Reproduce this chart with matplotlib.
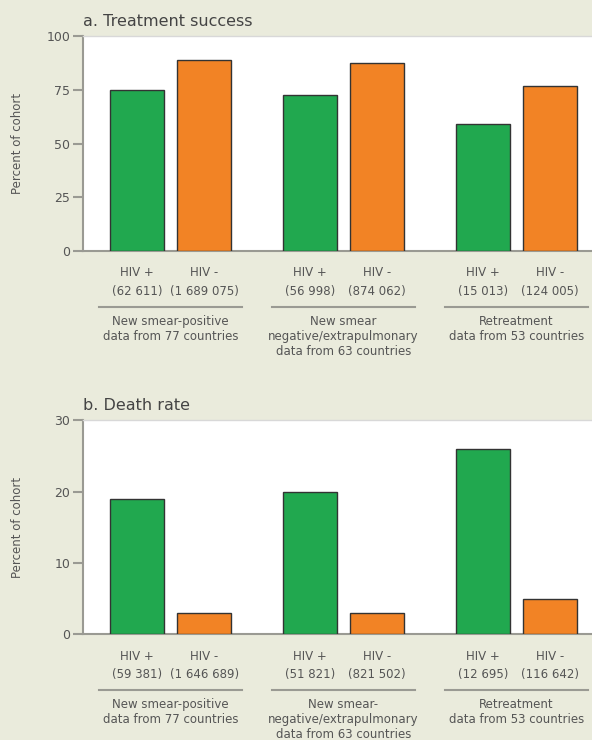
import matplotlib.pyplot as plt
from matplotlib.lines import Line2D

# data
groups = ["New smear-positive\ndata from 77 countries",
          "New smear\nnegative/extrapulmonary\ndata from 63 countries",
          "Retreatment\ndata from 53 countries"]
groups_b = ["New smear-positive\ndata from 77 countries",
            "New smear-\nnegative/extrapulmonary\ndata from 63 countries",
            "Retreatment\ndata from 53 countries"]
success_pos = [75, 72.5, 59]
success_neg = [89, 87.5, 77]
n_success_pos = ["(62 611)", "(56 998)", "(15 013)"]
n_success_neg = ["(1 689 075)", "(874 062)", "(124 005)"]
death_pos = [19, 20, 26]
death_neg = [3, 3, 5]
n_death_pos = ["(59 381)", "(51 821)", "(12 695)"]
n_death_neg = ["(1 646 689)", "(821 502)", "(116 642)"]

BG = "#EAEBDC"
GREEN = "#21A84F"
ORANGE = "#F28325"
TXT = "#555555"
GRAY = "#9A9A93"

plt.rcParams["font.family"] = ["DejaVu Sans"]

fig = plt.figure(figsize=(5.92, 7.4), dpi=100)
fig.patch.set_facecolor(BG)

step = 2.58
xs = [i * step for i in range(3)]


def panel(ax, title, pos, neg, npos, nneg, names, ymax, ticks):
    ax.set_facecolor("white")
    w = 0.8
    ax.bar([x for x in xs], pos, width=w, color=GREEN, edgecolor="#333333", linewidth=1, zorder=3)
    ax.bar([x + 1 for x in xs], neg, width=w, color=ORANGE, edgecolor="#333333", linewidth=1, zorder=3)
    ax.set_xlim(-0.81, 2 * step + 1 + 0.63)
    ax.set_ylim(0, ymax)
    ax.set_yticks(ticks)
    ax.set_xticks([])
    ax.tick_params(axis="y", length=7, width=1.5, color=GRAY, labelcolor=TXT, labelsize=9, pad=2)
    ax.spines["right"].set_visible(False)
    ax.spines["top"].set_color("#D8D8D8")
    ax.spines["top"].set_linewidth(1)
    ax.spines["left"].set_color(GRAY)
    ax.spines["left"].set_linewidth(1.5)
    ax.spines["bottom"].set_color(GRAY)
    ax.spines["bottom"].set_linewidth(1.5)
    ax.set_ylabel("Percent of cohort", color=TXT, fontsize=8.5)
    ax.yaxis.set_label_coords(-0.115, 0.5)
    ax.text(0.0, 1.035, title, transform=ax.transAxes, fontsize=11.5, color="#444444",
            ha="left", va="bottom")
    tr = ax.get_xaxis_transform()
    h = 215.0
    for i, x in enumerate(xs):
        ax.text(x, -22 / h, "HIV +", transform=tr, ha="center", va="center", fontsize=8.5, color=TXT)
        ax.text(x + 1, -22 / h, "HIV -", transform=tr, ha="center", va="center", fontsize=8.5, color=TXT)
        ax.text(x, -41 / h, npos[i], transform=tr, ha="center", va="center", fontsize=8.5, color=TXT)
        ax.text(x + 1, -41 / h, nneg[i], transform=tr, ha="center", va="center", fontsize=8.5, color=TXT)
        ax.add_line(Line2D([x + 0.5 - 1.07, x + 0.5 + 1.07], [-56 / h, -56 / h], transform=tr,
                           color=GRAY, linewidth=1.5, clip_on=False))
        ax.text(x + 0.5, -64 / h, names[i], transform=tr, ha="center", va="top", fontsize=8.5,
                color=TXT, linespacing=1.22)


ax1 = fig.add_axes([0.140, 0.661, 0.86, 0.290])
panel(ax1, "a. Treatment success", success_pos, success_neg, n_success_pos, n_success_neg,
      groups, 100, [0, 25, 50, 75, 100])

ax2 = fig.add_axes([0.140, 0.143, 0.86, 0.289])
panel(ax2, "b. Death rate", death_pos, death_neg, n_death_pos, n_death_neg,
      groups_b, 30, [0, 10, 20, 30])

fig.savefig("out.png", dpi=100, facecolor=fig.get_facecolor())
